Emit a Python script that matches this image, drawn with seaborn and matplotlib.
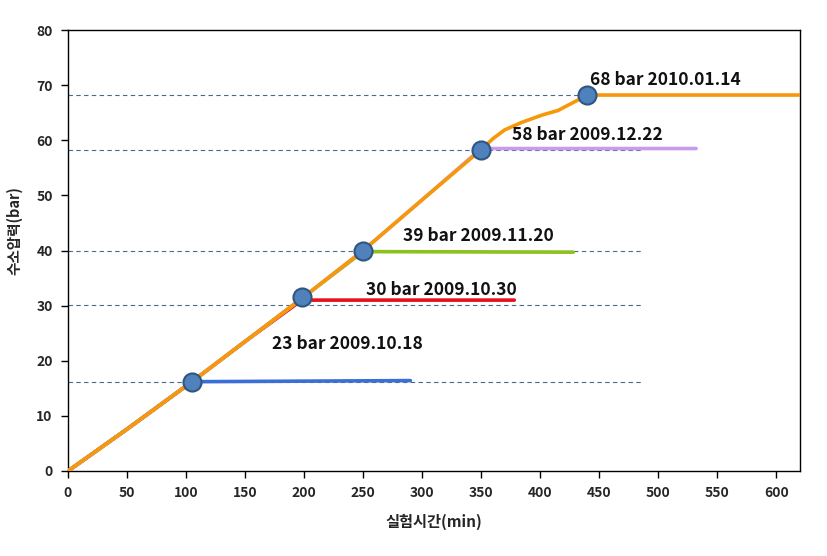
import matplotlib
matplotlib.use("Agg")
import matplotlib.pyplot as plt
import seaborn as sns
import pandas as pd

# ---- data ----
rise_t = [0, 50, 105, 150, 198, 250, 300, 350, 360, 370, 385, 402, 415, 440]
rise_p = [0, 7.6, 16.2, 23.5, 31.3, 40.0, 49.2, 58.3, 60.3, 61.9, 63.3, 64.6, 65.4, 68.2]

blue_t = [0, 50, 105, 290]
blue_p = [0, 7.6, 16.2, 16.4]
red_t = [0, 50, 105, 150, 198, 378]
red_p = [0, 7.6, 16.2, 23.5, 31.0, 31.0]
green_t = [0, 50, 105, 150, 198, 250, 428]
green_p = [0, 7.6, 16.2, 23.5, 31.3, 39.8, 39.7]
purple_t = [0, 50, 105, 150, 198, 250, 300, 350, 532]
purple_p = [0, 7.6, 16.2, 23.5, 31.3, 40.0, 49.2, 58.5, 58.5]
orange_t = rise_t + [620]
orange_p = rise_p + [68.2]

marker_t = [105, 198, 250, 350, 440]
marker_p = [16.2, 31.5, 40.0, 58.3, 68.2]
ref_levels = [16.2, 30.2, 40.0, 58.3, 68.2]

labels = ["23 bar 2009.10.18", "30 bar 2009.10.30", "39 bar 2009.11.20",
          "58 bar 2009.12.22", "68 bar 2010.01.14"]
label_t = [173, 252, 284, 376, 442]
label_p = [23.0, 32.8, 42.6, 61.0, 71.0]

x_ticks = list(range(0, 601, 50))
y_ticks = list(range(0, 81, 10))

# ---- plot ----
sns.set_theme(style="ticks")
plt.rcParams['font.family'] = ['Noto Sans CJK KR', 'DejaVu Sans']

fig = plt.figure(figsize=(8.27, 5.56), dpi=100)
ax = fig.add_axes([68/827, 1-471/556, (800-68)/827, (471-30)/556])

for lvl in ref_levels:
    ax.plot([0, 485], [lvl, lvl], color="#4a6a8c", lw=0.8, ls=(0, (4, 3)), zorder=1)

series = [
    (blue_t, blue_p, "#3c6fd6"),
    (red_t, red_p, "#e8101a"),
    (green_t, green_p, "#8cc21e"),
    (purple_t, purple_p, "#c89cec"),
    (orange_t, orange_p, "#f7980a"),
]
for i, (t, p, c) in enumerate(series):
    df = pd.DataFrame({"t": t, "p": p})
    sns.lineplot(data=df, x="t", y="p", ax=ax, color=c, lw=2.6, sort=False,
                 estimator=None, zorder=2 + i)

mdf = pd.DataFrame({"t": marker_t, "p": marker_p})
ax.plot(mdf["t"], mdf["p"], ls="none", marker="o", markersize=13,
        markerfacecolor="#4f81bd", markeredgecolor="#2f5580", markeredgewidth=1.5,
        zorder=10)

for txt, tx, ty in zip(labels, label_t, label_p):
    ax.text(tx, ty, txt, fontsize=12.5, fontweight="bold", va="center", ha="left",
            color="#111111", zorder=11)

ax.set_xlim(0, 620)
ax.set_ylim(0, 80)
ax.set_xticks(x_ticks)
ax.set_yticks(y_ticks)
for lab in ax.get_xticklabels() + ax.get_yticklabels():
    lab.set_fontweight("bold")
    lab.set_fontsize(10)
ax.tick_params(axis="both", direction="out", length=5, width=1, color="black", pad=6)
for s in ax.spines.values():
    s.set_color("black")
    s.set_linewidth(1)
ax.set_xlabel("실험시간(min)", fontsize=11, fontweight="bold", labelpad=10)
ax.set_ylabel("수소압력(bar)", fontsize=10.5, fontweight="bold")
ax.yaxis.set_label_coords(-0.062, 0.546)

fig.savefig("out.png", dpi=100)
